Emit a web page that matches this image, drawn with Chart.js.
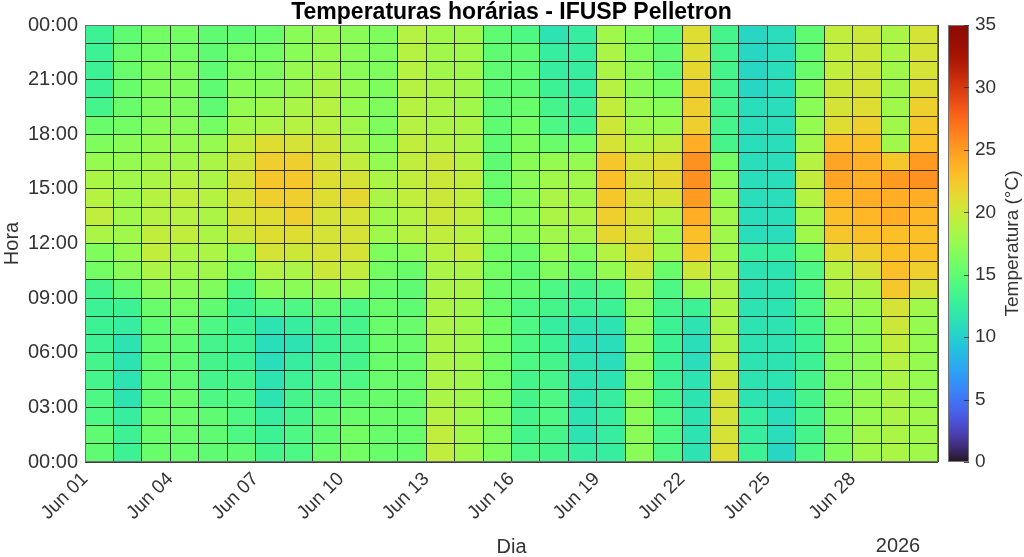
<!DOCTYPE html>
<html><head><meta charset="utf-8">
<script src="https://cdn.jsdelivr.net/npm/chart.js@4.4.0/dist/chart.umd.min.js"></script>
<style>html,body{margin:0;padding:0;background:#fff;overflow:hidden}#wrap{width:1024px;height:557px}</style>
</head><body><div id="wrap"><canvas id="c" width="1024" height="557"></canvas></div>
<script>
// Day tick labels (x) and hour tick labels (y)
const dayLabels = ['Jun 01','Jun 02','Jun 03','Jun 04','Jun 05','Jun 06','Jun 07','Jun 08','Jun 09','Jun 10',
  'Jun 11','Jun 12','Jun 13','Jun 14','Jun 15','Jun 16','Jun 17','Jun 18','Jun 19','Jun 20',
  'Jun 21','Jun 22','Jun 23','Jun 24','Jun 25','Jun 26','Jun 27','Jun 28','Jun 29','Jun 30'];
const hourLabels = ['00:00','03:00','06:00','09:00','12:00','15:00','18:00','21:00','00:00'];
const colorbarTicks = [0,5,10,15,20,25,30,35];

// Hourly temperatures (°C), one array per hour, 30 days each
const h00 = [15,13,15.5,15.5,15,15,13.5,14,15.5,16, 15.5,15.5,19.5,18,16.5,14,13.5,12.5,12.5,17, 14,11.5,21,13,10.5,14,16.5,18,18.5,18];
const h01 = [15,13,15.5,15.5,15,14,13,14,15,16, 15.5,15.5,19.5,18,16.5,13.5,13.5,11.5,12.5,17, 14,11.5,20.5,12.5,11,13.5,16.5,18,18.5,18];
const h02 = [14,12.5,15.5,15.5,15,14,12.5,13.5,15,15.5, 15.5,15.5,19,18,16.5,13.5,14,11.5,12.5,17, 14,11.5,20.5,12.5,11,13.5,16.5,17.5,18.5,18];
const h03 = [14,11.5,15,15.5,14,14,11.5,13.5,14,15, 15.5,15.5,18.5,18,16.5,13.5,14,11.5,12.5,17, 13.5,11.5,20.5,11.5,11,13.5,16.5,17.5,18.5,17.5];
const h04 = [13.5,11.5,15,15,13.5,13.5,11.5,13,14,14, 15.5,15.5,18.5,18,16,13.5,13.5,11.5,11.5,17, 13,11.5,20,11.5,11.5,13.5,16.5,17,18.5,17.5];
const h05 = [13.5,11.5,15,15,13.5,13,11,12.5,13.5,13.5, 15.5,15.5,18.5,18,16,14,13.5,11.5,11,17, 13,11,19.5,11.5,11.5,13,16.5,17,19,17.5];
const h06 = [13,11.5,15,15,13.5,13,11,11.5,13,13.5, 15.5,15.5,18.5,18,16,14,13,11,11,17, 13,11,19,11.5,11.5,13,16.5,17,19.5,17.5];
const h07 = [13,12.5,15,15.5,14,13,11.5,12.5,13.5,13.5, 15.5,15.5,18.5,18,16,14,12.5,11.5,11.5,17, 13,11.5,18.5,11.5,11.5,13.5,16.5,17,20,17.5];
const h08 = [13,13,15.5,16,15,13,14,14,15,14, 15.5,15,18.5,18,15.5,14,13.5,13,13,17, 13.5,13,18.5,11.5,11.5,14,17.5,17.5,20.5,18];
const h09 = [13.5,15,17,17,16.5,14,17,17,17.5,17.5, 15.5,15,18.5,18.5,15.5,15,14,13.5,14,18, 14,17.5,18.5,11.5,11.5,14,18.5,18.5,22.5,20.5];
const h10 = [16,17,18.5,18,18,16.5,19,18.5,20,19.5, 16,15.5,18.5,18.5,16,15,16.5,15.5,17.5,20, 15.5,20,18.5,11.5,11.5,14,19,20.5,23,22];
const h11 = [16.5,17.5,19.5,18.5,18.5,17.5,20.5,20,20.5,20.5, 16.5,17,19,19.5,16,15.5,17.5,16.5,19,21, 18,22.5,18,12.5,12.5,15.5,21,22,23,23];
const h12 = [18.5,18,19.5,19.5,18.5,20,21,21,20.5,20.5, 18,19,19.5,19,17,17,18,18,21.5,20.5, 18,23,18,11,11,18,22.5,23,23,23];
const h13 = [19.5,18,19,19,18.5,20.5,21,22,20.5,20.5, 18,19,20,19.5,16.5,17,18.5,18.5,22,20.5, 19,24,18,11,11,18,23,23.5,24,23.5];
const h14 = [19,18,19,19.5,19,20.5,22,22,21,21.5, 18.5,19.5,20,19.5,15.5,17,18.5,18,22.5,20.5, 20.5,25,17.5,11,11,19,23.5,24,24,24];
const h15 = [18.5,18,18.5,19,18.5,20.5,22.5,22.5,21,20.5, 18.5,19.5,20,19.5,15.5,17,18,18,23,20.5, 21.5,25.5,17,11,11,19.5,24.5,24,25,25.5];
const h16 = [17.5,17.5,18,18,18.5,20,22,22,20.5,19.5, 17.5,19.5,20,19,15,17,17.5,17.5,22.5,20.5, 21,25.5,16,11,11,19,24.5,24,22.5,25];
const h17 = [16.5,17,17.5,17.5,17.5,19.5,21,20.5,20,18.5, 17,19.5,19,18.5,15,16.5,15.5,16,20.5,19, 19.5,24,13.5,11,11,18,23,23,18,23];
const h18 = [15.5,16,17,17,16,18,18.5,19,19,18, 16.5,19,18.5,18.5,15,16,14,13.5,20,18, 17.5,22,13.5,11,11,17.5,21,22,18,22.5];
const h19 = [13.5,15.5,16.5,16.5,15,17.5,18,18.5,19,17.5, 16.5,19,18.5,18,15,15.5,13.5,13,19.5,17.5, 17,22,13.5,11,11,17,20.5,21,18,22];
const h20 = [13,15.5,16.5,16.5,15,17,17,17.5,18.5,17.5, 16.5,19,18.5,18,15,15,13,12.5,19,17, 16,22,13.5,10.5,11,16.5,20,20.5,18,21];
const h21 = [13,15.5,16.5,16.5,15,16.5,16.5,17.5,18,17, 16.5,19,18,18,15,15,12.5,12.5,18.5,17, 15,21.5,13.5,10.5,11,15.5,19.5,20,18,20.5];
const h22 = [13,15.5,16,16,15,16,16,17,17.5,17, 16.5,19,18,18,15,15,12.5,12.5,18.5,16.5, 15,21,13.5,10.5,11,15,19.5,20,18.5,20.5];
const h23 = [13,15,16,16,15,15,15.5,17,17.5,17, 16.5,19,18,18,15,14,11.5,12.5,18,16.5, 15,21,13.5,10.5,11,15,19.5,20,18.5,20.5];

const hours = [h00,h01,h02,h03,h04,h05,h06,h07,h08,h09,h10,h11,h12,h13,h14,h15,h16,h17,h18,h19,h20,h21,h22,h23];
const cMin = 0, cMax = 35;

function turbo(t){
  t = Math.max(0, Math.min(1, t));
  const r = Math.max(0, Math.min(255, Math.round(34.61 + t*(1172.33 - t*(10793.56 - t*(33300.12 - t*(38394.49 - t*14825.05)))))));
  const g = Math.max(0, Math.min(255, Math.round(23.31 + t*(557.33 + t*(1225.33 - t*(3574.96 - t*(1073.77 + t*707.56)))))));
  const b = Math.max(0, Math.min(255, Math.round(27.2 + t*(3211.1 - t*(15327.97 - t*(27814 - t*(22569.18 - t*6838.66)))))));
  return 'rgb(' + r + ',' + g + ',' + b + ')';
}
const colorFor = v => turbo((v - cMin) / (cMax - cMin));

const datasets = hours.map((arr, h) => ({
  data: arr.map((v, d) => ({x: d + 0.5, y: [h, h + 1]})),
  backgroundColor: arr.map(colorFor),
  borderWidth: 0,
  grouped: false,
  categoryPercentage: 1,
  barPercentage: 1
}));

const FONT = "'Liberation Sans', Arial, Helvetica, sans-serif";
Chart.defaults.font.family = FONT;

const extras = {
  id: 'extras',
  afterDraw(chart){
    const ctx = chart.ctx, a = chart.chartArea, cb = chart.scales.cb;
    ctx.save();
    // plot frame
    ctx.strokeStyle = '#6f6f6f'; ctx.lineWidth = 1;
    ctx.strokeRect(Math.round(a.left) + 0.5, Math.round(a.top) + 0.5, Math.round(a.right - a.left) - 1, Math.round(a.bottom - a.top) - 1);
    // colorbar
    const x0 = 948, w = 21, yTop = cb.getPixelForValue(cMax), yBot = cb.getPixelForValue(cMin);
    const grad = ctx.createLinearGradient(0, yBot, 0, yTop);
    for (let i = 0; i <= 64; i++) grad.addColorStop(i / 64, turbo(i / 64));
    ctx.fillStyle = grad;
    ctx.fillRect(x0, yTop, w, yBot - yTop);
    ctx.strokeStyle = '#777'; ctx.strokeRect(x0 + 0.5, Math.round(yTop) + 0.5, w - 1, Math.round(yBot - yTop) - 1);
    ctx.strokeStyle = 'rgba(40,40,40,0.8)';
    colorbarTicks.forEach(v => {
      const y = Math.round(cb.getPixelForValue(v)) + 0.5;
      ctx.beginPath(); ctx.moveTo(x0 + w - 5, y); ctx.lineTo(x0 + w, y); ctx.stroke();
    });
    // titles
    ctx.fillStyle = '#000';
    ctx.font = 'bold 23px ' + FONT;
    ctx.textAlign = 'center'; ctx.textBaseline = 'alphabetic';
    ctx.fillText('Temperaturas horárias - IFUSP Pelletron', (a.left + a.right) / 2, 19);
    ctx.fillStyle = '#333';
    ctx.font = '19px ' + FONT;
    ctx.textBaseline = 'middle';
    ctx.save();
    ctx.translate(1013, (yTop + yBot) / 2);
    ctx.rotate(-Math.PI / 2);
    ctx.fillText('Temperatura (°C)', 0, 0);
    ctx.restore();
    ctx.font = '20px ' + FONT;
    ctx.fillText('2026', 898, 546);
    ctx.restore();
  }
};

const gridOpts = {color: 'rgba(15,15,15,0.8)', lineWidth: 1, drawTicks: false, offset: false, z: 1};

new Chart(document.getElementById('c'), {
  type: 'bar',
  data: {datasets},
  options: {
    responsive: false, animation: false, devicePixelRatio: 1,
    layout: {padding: {top: 25, left: 0, right: 0, bottom: 0}},
    plugins: {legend: {display: false}, tooltip: {enabled: false}, title: {display: false}},
    scales: {
      x: {
        type: 'linear', min: 0, max: 30, offset: false,
        grid: gridOpts,
        border: {display: false},
        ticks: {stepSize: 1, autoSkip: false, minRotation: 45, maxRotation: 45, padding: 6,
          color: '#333', font: {size: 19},
          callback: v => (v % 3 === 0 && v < 30) ? dayLabels[v] : ''},
        title: {display: true, text: 'Dia', color: '#333', font: {size: 20, lineHeight: 1}, padding: 0},
        afterFit: s => { s.height = 95; s.paddingLeft = 0; s.paddingRight = 0; }
      },
      y: {
        type: 'linear', min: 0, max: 24,
        grid: gridOpts,
        border: {display: false},
        ticks: {stepSize: 1, autoSkip: false, padding: 7, color: '#333', font: {size: 20},
          callback: v => (v % 3 === 0) ? hourLabels[v / 3] : ''},
        title: {display: true, text: 'Hora', color: '#333', font: {size: 20, lineHeight: 1}, padding: {top: 2, bottom: 0}},
        afterFit: s => { s.width = 85; s.paddingTop = 0; s.paddingBottom = 0; }
      },
      cb: {
        type: 'linear', position: 'right', min: cMin, max: cMax,
        grid: {display: false, drawTicks: false, drawOnChartArea: false},
        border: {display: false},
        ticks: {stepSize: 5, padding: 37, color: '#333', font: {size: 19}, autoSkip: false},
        afterFit: s => { s.width = 86; s.paddingTop = 0; s.paddingBottom = 0; }
      }
    }
  },
  plugins: [extras]
});
</script>
</body></html>
